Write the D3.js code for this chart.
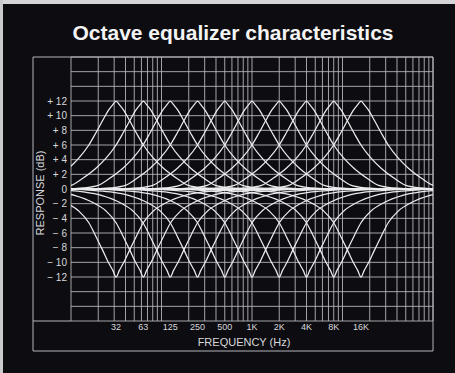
<!DOCTYPE html>
<html>
<head>
<meta charset="utf-8">
<script src="https://cdn.jsdelivr.net/npm/d3@7"></script>
<style>
  html, body { margin: 0; padding: 0; background: #0d0d11; }
  svg { display: block; }
</style>
</head>
<body>
<div id="chart"></div>
<script>
// band centres of the ten octave sliders
const bandFreqs = [31.5, 63, 125, 250, 500, 1000, 2000, 4000, 8000, 16000];
const bandLabels = ["32", "63", "125", "250", "500", "1K", "2K", "4K", "8K", "16K"];

// response, octaves away from the band centre -> dB
const boostOctaves = [0, 0.12, 0.27, 0.5, 0.75, 1.0, 1.37, 1.75, 2.25, 2.65, 3.2, 4, 14];
const boostDb      = [12, 11.5, 10.8, 9.3, 7.6, 6.0, 4.2, 2.8, 1.4, 0.5, 0.15, 0, 0];
const cutOctaves   = [0, 0.12, 0.27, 0.5, 0.75, 1.0, 1.37, 1.85, 2.5, 3.2, 4, 5, 14];
const cutDb        = [-12, -11.1, -10.1, -8.3, -6.4, -4.6, -3.0, -1.85, -0.9, -0.4, -0.15, 0, 0];

const dbTicks = [12, 10, 8, 6, 4, 2, 0, -2, -4, -6, -8, -10, -12];
const dbLabels = ["+ 12", "+ 10", "+ 8", "+ 6", "+ 4", "+ 2", "0", "\u2212 2", "\u2212 4", "\u2212 6", "\u2212 8", "\u2212 10", "\u2212 12"];

const width = 455, height = 373;
// plot area and the outer frame
const plot = {left: 71, right: 433, top: 57, bottom: 321};
const frame = {left: 33, right: 433, top: 57, bottom: 351};

const svg = d3.select("#chart").append("svg")
	.attr("width", width)
	.attr("height", height);

// scanned-page edges
svg.append("rect").attr("width", width).attr("height", height).attr("fill", "#0d0d11");
svg.append("rect").attr("width", width).attr("height", 4).attr("fill", "#d4d5d6");
svg.append("rect").attr("width", 3).attr("height", height).attr("fill", "#c9cacb");

const x = d3.scaleLog().domain([10, 100000]).range([plot.left, plot.right]);
const y = d3.scaleLinear().domain([-18, 18]).range([plot.bottom, plot.top]);

const labelFont = "Liberation Sans, Arial, sans-serif";

// title
svg.append("text")
	.attr("x", 233)
	.attr("y", 40)
	.attr("text-anchor", "middle")
	.attr("fill", "#f4f4f4")
	.attr("font-family", labelFont)
	.attr("font-weight", "bold")
	.attr("font-size", 21)
	.text("Octave equalizer characteristics");

// grid
const gridColor = "#b3b4ba";
const grid = svg.append("g").attr("stroke", gridColor).attr("stroke-width", 0.9);

grid.selectAll("line.v")
	.data(x.ticks())
	.join("line")
	.attr("class", "v")
	.attr("x1", d => x(d)).attr("x2", d => x(d))
	.attr("y1", plot.top).attr("y2", plot.bottom);

grid.selectAll("line.h")
	.data(d3.range(-18, 19, 2))
	.join("line")
	.attr("class", "h")
	.attr("x1", plot.left).attr("x2", plot.right)
	.attr("y1", d => y(d)).attr("y2", d => y(d));

// outer frame
svg.append("path")
	.attr("fill", "none")
	.attr("stroke", gridColor)
	.attr("stroke-width", 1)
	.attr("d", `M${frame.left},${frame.top}H${frame.right}V${frame.bottom}H${frame.left}Z M${frame.left},${plot.bottom}H${plot.left}`);

// y axis labels
svg.append("g")
	.selectAll("text")
	.data(dbTicks)
	.join("text")
	.attr("x", 67)
	.attr("y", d => y(d))
	.attr("dy", "0.36em")
	.attr("text-anchor", "end")
	.attr("fill", "#d8d8dc")
	.attr("font-family", labelFont)
	.attr("font-size", 10)
	.text((d, i) => dbLabels[i]);

svg.append("text")
	.attr("transform", `translate(44,${y(0) + 4}) rotate(-90)`)
	.attr("text-anchor", "middle")
	.attr("fill", "#d8d8dc")
	.attr("font-family", labelFont)
	.attr("font-size", 11)
	.text("RESPONSE (dB)");

// x axis labels
svg.append("g")
	.selectAll("text")
	.data(bandFreqs)
	.join("text")
	.attr("x", d => x(d))
	.attr("y", 330)
	.attr("text-anchor", "middle")
	.attr("fill", "#d8d8dc")
	.attr("font-family", labelFont)
	.attr("font-size", 9)
	.text((d, i) => bandLabels[i]);

svg.append("text")
	.attr("x", 244)
	.attr("y", 346)
	.attr("text-anchor", "middle")
	.attr("fill", "#d8d8dc")
	.attr("font-family", labelFont)
	.attr("font-size", 11)
	.text("FREQUENCY (Hz)");

// curves
svg.append("clipPath").attr("id", "plot-clip")
	.append("rect")
	.attr("x", plot.left).attr("y", plot.top)
	.attr("width", plot.right - plot.left).attr("height", plot.bottom - plot.top);

const line = d3.line()
	.x(d => x(d[0]))
	.y(d => y(d[1]))
	.curve(d3.curveMonotoneX);

// mirror an octave profile around a centre frequency
function bandCurve(centre, octaves, db) {
	const left = octaves.map((o, i) => [centre / Math.pow(2, o), db[i]]).reverse();
	const right = octaves.slice(1).map((o, i) => [centre * Math.pow(2, o), db[i + 1]]);
	return left.concat(right);
}

const curves = svg.append("g")
	.attr("clip-path", "url(#plot-clip)")
	.attr("fill", "none")
	.attr("stroke", "#ececef")
	.attr("stroke-width", 1.25);

curves.selectAll("path.boost")
	.data(bandFreqs)
	.join("path")
	.attr("class", "boost")
	.attr("d", f => line(bandCurve(f, boostOctaves, boostDb)));

curves.selectAll("path.cut")
	.data(bandFreqs)
	.join("path")
	.attr("class", "cut")
	.attr("d", f => line(bandCurve(f, cutOctaves, cutDb)));
</script>
</body>
</html>
